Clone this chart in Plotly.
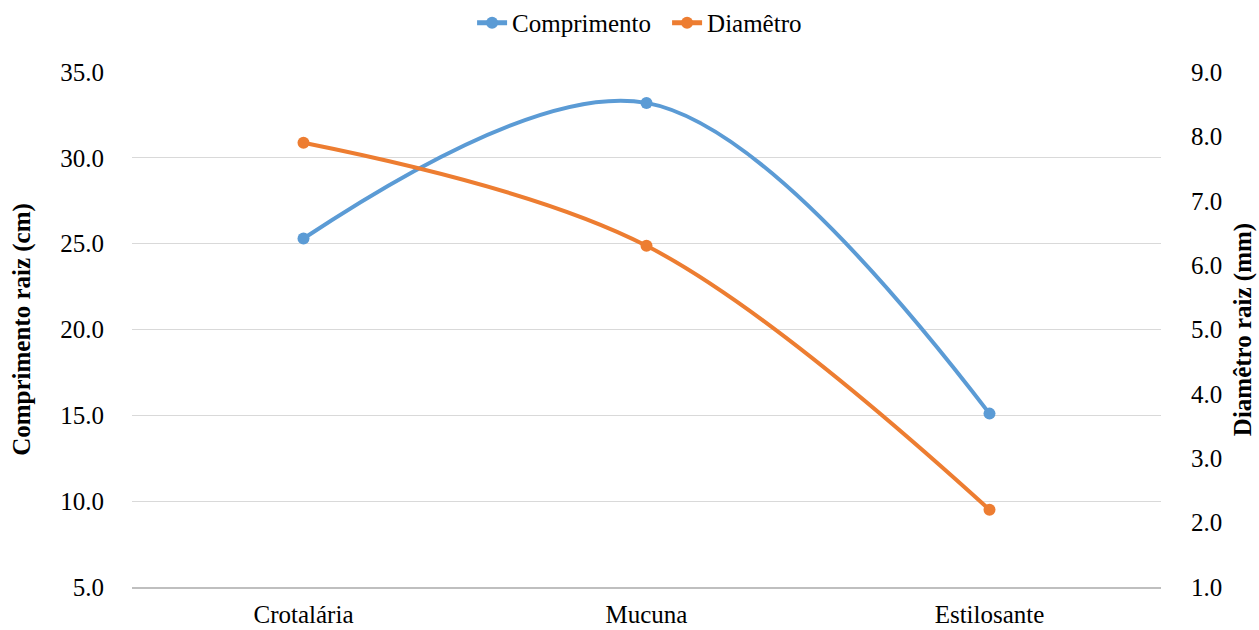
import plotly.graph_objects as go

# Root measurements per cover crop
categorias = ["Crotalária", "Mucuna", "Estilosante"]
comprimento_cm = [25.3, 33.2, 15.1]
diametro_mm = [7.9, 6.3, 2.2]

left_ticks = [5, 10, 15, 20, 25, 30, 35]
right_ticks = [1, 2, 3, 4, 5, 6, 7, 8, 9]

FONT = "Liberation Serif, Times New Roman, serif"
BLUE = "#5b9bd5"
ORANGE = "#ed7d31"
FS = 25

fig = go.Figure()
fig.add_trace(go.Scatter(
    x=categorias, y=comprimento_cm, name="Comprimento",
    mode="lines+markers", line=dict(color=BLUE, width=4, shape="spline", smoothing=1),
    marker=dict(color=BLUE, size=12), yaxis="y",
))
fig.add_trace(go.Scatter(
    x=categorias, y=diametro_mm, name="Diamêtro",
    mode="lines+markers", line=dict(color=ORANGE, width=4, shape="spline", smoothing=1),
    marker=dict(color=ORANGE, size=12), yaxis="y2",
))

fig.update_layout(
    width=1259, height=630,
    margin=dict(l=132, r=98, t=72, b=43),
    paper_bgcolor="white", plot_bgcolor="white",
    font=dict(family=FONT, size=FS, color="#000000"),
    showlegend=True,
    legend=dict(orientation="h", x=0.52, xanchor="center", y=0.9635, yanchor="middle",
                yref="container", font=dict(size=FS), traceorder="normal",
                itemsizing="constant", entrywidth=150, entrywidthmode="pixels"),
    xaxis=dict(
        range=[-0.5, 2.5], showgrid=False, zeroline=False, automargin=False,
        showline=True, linecolor="#bfbfbf", linewidth=2,
        ticks="outside", ticklen=4, tickcolor="rgba(0,0,0,0)",
        tickfont=dict(size=FS, family=FONT),
    ),
    yaxis=dict(
        range=[5, 35], tickvals=left_ticks, ticktext=[f"{v:.1f}" for v in left_ticks],
        showgrid=True, gridcolor="#d9d9d9", gridwidth=1, zeroline=False, automargin=False,
        ticks="outside", ticklen=22, tickcolor="rgba(0,0,0,0)",
        tickfont=dict(size=FS, family=FONT),
        title=dict(text="<b>Comprimento raiz (cm)</b>", font=dict(size=FS, family=FONT), standoff=22),
    ),
    yaxis2=dict(
        range=[1, 9], tickvals=right_ticks, ticktext=[f"{v:.1f}" for v in right_ticks],
        overlaying="y", side="right", showgrid=False, zeroline=False, automargin=False,
        ticks="outside", ticklen=24, tickcolor="rgba(0,0,0,0)",
        tickfont=dict(size=FS, family=FONT),
        title=dict(text="<b>Diamêtro raiz (mm)</b>", font=dict(size=FS, family=FONT), standoff=12),
    ),
)

fig.write_html("out.html")
